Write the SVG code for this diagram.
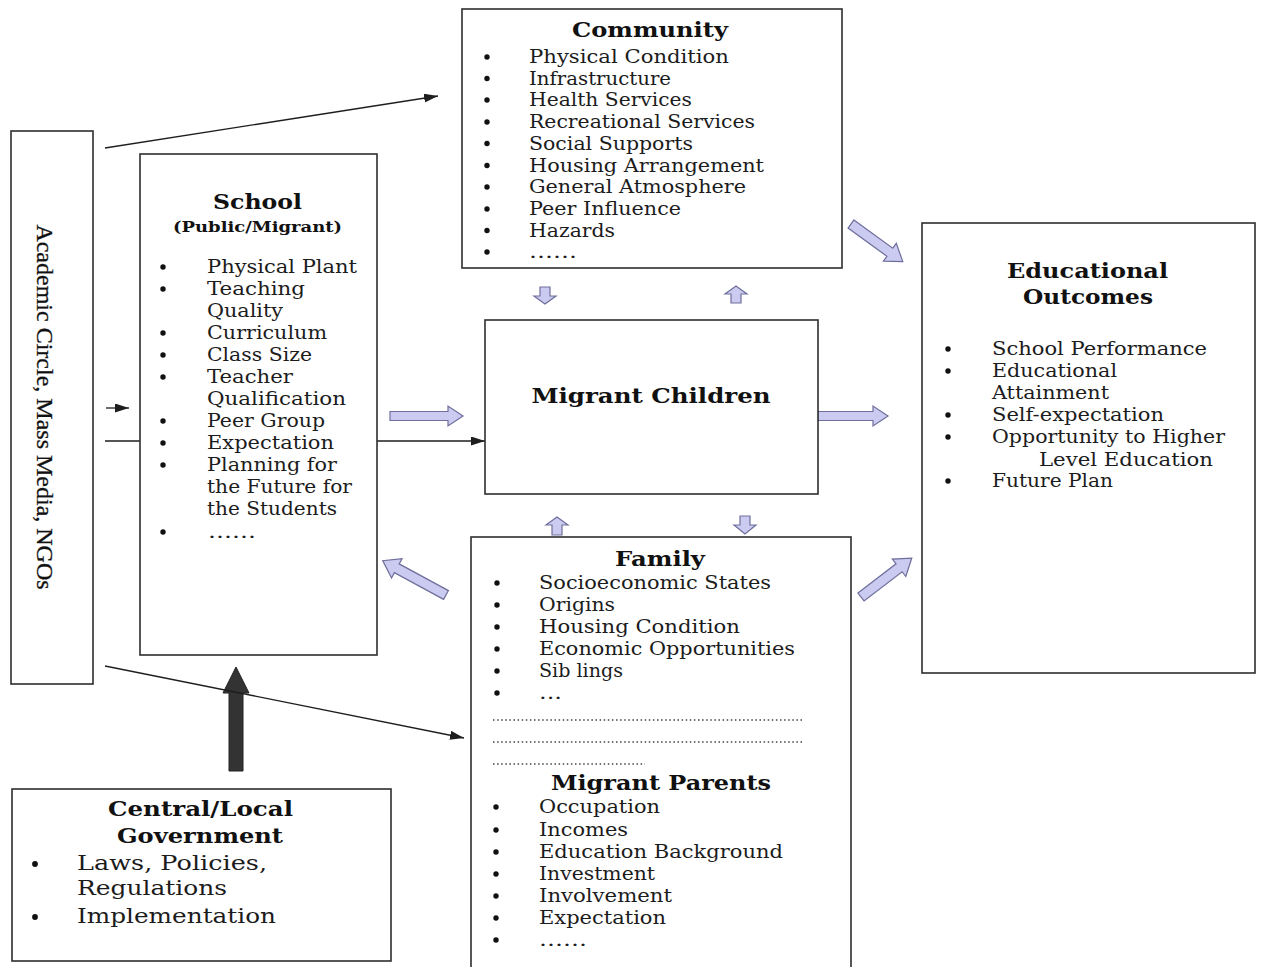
<svg xmlns="http://www.w3.org/2000/svg" width="1261" height="967" viewBox="0 0 1261 967">
<style>
.box{fill:#fff;stroke:#2e2e2e;stroke-width:1.6}
.it{font-family:"DejaVu Serif","Liberation Serif",serif;font-size:19px;fill:#1c1c1c}
.gv{font-family:"DejaVu Serif","Liberation Serif",serif;font-size:21px;fill:#1c1c1c}
.hd{font-family:"DejaVu Serif","Liberation Serif",serif;font-weight:bold;font-size:21px;fill:#111}
.sub{font-family:"DejaVu Serif","Liberation Serif",serif;font-weight:bold;font-size:15px;fill:#111}
.bl{fill:#111}
.mid{text-anchor:middle}
.ln{stroke:#1e1e1e;stroke-width:1.3;fill:none;marker-end:url(#ah)}
.blk{fill:#cbcbf1;stroke:#6e6e9c;stroke-width:1.2}
.dot{stroke:#444;stroke-width:1.4;stroke-dasharray:1.5 2.6}
.vt{font-family:"Liberation Serif","Times New Roman",serif;font-size:24px;fill:#111;stroke:#111;stroke-width:0.3}
</style>
<defs>
<marker id="ah" markerUnits="userSpaceOnUse" markerWidth="15" markerHeight="10" refX="14" refY="4.5" orient="auto">
<path d="M0,0 L14,4.5 L0,9 Z" fill="#1e1e1e"/>
</marker>
<polygon id="d64" points="0,-5 48,-5 48,-11 64,0 48,11 48,5 0,5"/>
<polygon id="d72" points="0,-5 56,-5 56,-11 72,0 56,11 56,5 0,5"/>
</defs>
<rect width="1261" height="967" fill="#fff"/>

<g id="connectors">
<line class="ln" x1="105" y1="148" x2="438" y2="96"/>
<line class="ln" x1="106" y1="408" x2="129" y2="408"/>
<line class="ln" x1="105" y1="441" x2="485" y2="441"/>
<polygon points="229,771 243,771 243,693 249,693 236,667 223,693 229,693" fill="#333" stroke="#222" stroke-width="1"/>
<line class="ln" x1="105" y1="666" x2="464" y2="738"/>
<polygon class="blk" points="390,411.5 448,411.5 448,406 463,416 448,426 448,420.5 390,420.5"/>
<polygon class="blk" points="818,411.5 873,411.5 873,406 888,416 873,426 873,420.5 818,420.5"/>
<polygon class="blk" points="540,287 550,287 550,296 556,296 545,304 534,296 540,296"/>
<polygon class="blk" points="736,286 747,294 741,294 741,303 731,303 731,294 725,294"/>
<polygon class="blk" points="557,517 568,525 562,525 562,535 552,535 552,525 546,525"/>
<polygon class="blk" points="740,516 750,516 750,525 756,525 745,534 734,525 740,525"/>
<use href="#d64" class="blk" transform="translate(851,224) rotate(36)"/>
<use href="#d64" class="blk" transform="translate(861,597) rotate(-37.5)"/>
<use href="#d72" class="blk" transform="translate(446,595) rotate(208.5)"/>
</g>

<g id="academic">
<rect class="box" x="11" y="131" width="82" height="553"/>
<text class="vt mid" transform="translate(37,407) rotate(90)">Academic Circle, Mass Media, NGOs</text>
</g>

<g id="school">
<rect class="box" x="140" y="154" width="237" height="501"/>
<text class="hd mid" x="257.5" y="209" textLength="89" lengthAdjust="spacingAndGlyphs">School</text>
<text class="sub mid" x="257.5" y="232" textLength="169" lengthAdjust="spacingAndGlyphs">(Public/Migrant)</text>
<circle class="bl" cx="163" cy="267" r="2.7"/><text class="it" x="207" y="273" textLength="150" lengthAdjust="spacingAndGlyphs">Physical Plant</text>
<circle class="bl" cx="163" cy="289" r="2.7"/><text class="it" x="207" y="295" textLength="98" lengthAdjust="spacingAndGlyphs">Teaching</text>
<text class="it" x="207" y="317" textLength="76" lengthAdjust="spacingAndGlyphs">Quality</text>
<circle class="bl" cx="163" cy="333" r="2.7"/><text class="it" x="207" y="339" textLength="120" lengthAdjust="spacingAndGlyphs">Curriculum</text>
<circle class="bl" cx="163" cy="355" r="2.7"/><text class="it" x="207" y="361" textLength="105" lengthAdjust="spacingAndGlyphs">Class Size</text>
<circle class="bl" cx="163" cy="377" r="2.7"/><text class="it" x="207" y="383" textLength="86" lengthAdjust="spacingAndGlyphs">Teacher</text>
<text class="it" x="207" y="405" textLength="139" lengthAdjust="spacingAndGlyphs">Qualification</text>
<circle class="bl" cx="163" cy="421" r="2.7"/><text class="it" x="207" y="427" textLength="118" lengthAdjust="spacingAndGlyphs">Peer Group</text>
<circle class="bl" cx="163" cy="443" r="2.7"/><text class="it" x="207" y="449" textLength="127" lengthAdjust="spacingAndGlyphs">Expectation</text>
<circle class="bl" cx="163" cy="465" r="2.7"/><text class="it" x="207" y="471" textLength="130" lengthAdjust="spacingAndGlyphs">Planning for</text>
<text class="it" x="207" y="493" textLength="145" lengthAdjust="spacingAndGlyphs">the Future for</text>
<text class="it" x="207" y="515" textLength="130" lengthAdjust="spacingAndGlyphs">the Students</text>
<circle class="bl" cx="163" cy="532" r="2.7"/><text class="it" x="208" y="538" textLength="48" lengthAdjust="spacingAndGlyphs">......</text>
</g>

<g id="community">
<rect class="box" x="462" y="9" width="380" height="259"/>
<text class="hd mid" x="650" y="37" textLength="156" lengthAdjust="spacingAndGlyphs">Community</text>
<circle class="bl" cx="487" cy="57" r="2.7"/><text class="it" x="529" y="63" textLength="200" lengthAdjust="spacingAndGlyphs">Physical Condition</text>
<circle class="bl" cx="487" cy="78.5" r="2.7"/><text class="it" x="529" y="84.5" textLength="142" lengthAdjust="spacingAndGlyphs">Infrastructure</text>
<circle class="bl" cx="487" cy="100" r="2.7"/><text class="it" x="529" y="106" textLength="163" lengthAdjust="spacingAndGlyphs">Health Services</text>
<circle class="bl" cx="487" cy="122" r="2.7"/><text class="it" x="529" y="128" textLength="226" lengthAdjust="spacingAndGlyphs">Recreational Services</text>
<circle class="bl" cx="487" cy="143.5" r="2.7"/><text class="it" x="529" y="149.5" textLength="164" lengthAdjust="spacingAndGlyphs">Social Supports</text>
<circle class="bl" cx="487" cy="165.5" r="2.7"/><text class="it" x="529" y="171.5" textLength="235" lengthAdjust="spacingAndGlyphs">Housing Arrangement</text>
<circle class="bl" cx="487" cy="187" r="2.7"/><text class="it" x="529" y="193" textLength="217" lengthAdjust="spacingAndGlyphs">General Atmosphere</text>
<circle class="bl" cx="487" cy="209" r="2.7"/><text class="it" x="529" y="215" textLength="152" lengthAdjust="spacingAndGlyphs">Peer Influence</text>
<circle class="bl" cx="487" cy="230.5" r="2.7"/><text class="it" x="529" y="236.5" textLength="86" lengthAdjust="spacingAndGlyphs">Hazards</text>
<circle class="bl" cx="487" cy="252" r="2.7"/><text class="it" x="529" y="258" textLength="48" lengthAdjust="spacingAndGlyphs">......</text>
</g>

<g id="migrant-children">
<rect class="box" x="485" y="320" width="333" height="174"/>
<text class="hd mid" x="651" y="403" font-size="22" textLength="239" lengthAdjust="spacingAndGlyphs">Migrant Children</text>
</g>

<g id="family">
<rect class="box" x="471" y="537" width="380" height="440"/>
<text class="hd mid" x="660" y="566" textLength="90" lengthAdjust="spacingAndGlyphs">Family</text>
<circle class="bl" cx="497" cy="583" r="2.7"/><text class="it" x="539" y="589" textLength="232" lengthAdjust="spacingAndGlyphs">Socioeconomic States</text>
<circle class="bl" cx="497" cy="605" r="2.7"/><text class="it" x="539" y="611" textLength="76" lengthAdjust="spacingAndGlyphs">Origins</text>
<circle class="bl" cx="497" cy="627" r="2.7"/><text class="it" x="539" y="633" textLength="201" lengthAdjust="spacingAndGlyphs">Housing Condition</text>
<circle class="bl" cx="497" cy="649" r="2.7"/><text class="it" x="539" y="655" textLength="256" lengthAdjust="spacingAndGlyphs">Economic Opportunities</text>
<circle class="bl" cx="497" cy="671" r="2.7"/><text class="it" x="539" y="677" textLength="84" lengthAdjust="spacingAndGlyphs">Sib lings</text>
<circle class="bl" cx="497" cy="693" r="2.7"/><text class="it" x="539" y="699" textLength="23" lengthAdjust="spacingAndGlyphs">...</text>
<line class="dot" x1="493" y1="720" x2="804" y2="720"/>
<line class="dot" x1="493" y1="742" x2="804" y2="742"/>
<line class="dot" x1="493" y1="764" x2="645" y2="764"/>
<text class="hd mid" x="661" y="790" textLength="220" lengthAdjust="spacingAndGlyphs">Migrant Parents</text>
<circle class="bl" cx="496" cy="807" r="2.7"/><text class="it" x="539" y="813" textLength="121" lengthAdjust="spacingAndGlyphs">Occupation</text>
<circle class="bl" cx="496" cy="830" r="2.7"/><text class="it" x="539" y="836" textLength="89" lengthAdjust="spacingAndGlyphs">Incomes</text>
<circle class="bl" cx="496" cy="852" r="2.7"/><text class="it" x="539" y="858" textLength="244" lengthAdjust="spacingAndGlyphs">Education Background</text>
<circle class="bl" cx="496" cy="874" r="2.7"/><text class="it" x="539" y="880" textLength="116" lengthAdjust="spacingAndGlyphs">Investment</text>
<circle class="bl" cx="496" cy="896" r="2.7"/><text class="it" x="539" y="902" textLength="133" lengthAdjust="spacingAndGlyphs">Involvement</text>
<circle class="bl" cx="496" cy="918" r="2.7"/><text class="it" x="539" y="924" textLength="127" lengthAdjust="spacingAndGlyphs">Expectation</text>
<circle class="bl" cx="496" cy="940" r="2.7"/><text class="it" x="539" y="946" textLength="48" lengthAdjust="spacingAndGlyphs">......</text>
</g>

<g id="outcomes">
<rect class="box" x="922" y="223" width="333" height="450"/>
<text class="hd mid" x="1087.5" y="278" font-size="22" textLength="161" lengthAdjust="spacingAndGlyphs">Educational</text>
<text class="hd mid" x="1088" y="304" font-size="22" textLength="130" lengthAdjust="spacingAndGlyphs">Outcomes</text>
<circle class="bl" cx="948" cy="349" r="2.7"/><text class="it" x="992" y="355" textLength="215" lengthAdjust="spacingAndGlyphs">School Performance</text>
<circle class="bl" cx="948" cy="371" r="2.7"/><text class="it" x="992" y="377" textLength="125" lengthAdjust="spacingAndGlyphs">Educational</text>
<text class="it" x="992" y="399" textLength="117" lengthAdjust="spacingAndGlyphs">Attainment</text>
<circle class="bl" cx="948" cy="415" r="2.7"/><text class="it" x="992" y="421" textLength="172" lengthAdjust="spacingAndGlyphs">Self-expectation</text>
<circle class="bl" cx="948" cy="437" r="2.7"/><text class="it" x="992" y="443" textLength="233" lengthAdjust="spacingAndGlyphs">Opportunity to Higher</text>
<text class="it" x="1039" y="466" textLength="174" lengthAdjust="spacingAndGlyphs">Level Education</text>
<circle class="bl" cx="948" cy="481" r="2.7"/><text class="it" x="992" y="487" textLength="121" lengthAdjust="spacingAndGlyphs">Future Plan</text>
</g>

<g id="government">
<rect class="box" x="12" y="789" width="379" height="172"/>
<text class="hd mid" x="200.5" y="816" textLength="185" lengthAdjust="spacingAndGlyphs">Central/Local</text>
<text class="hd mid" x="200" y="843" textLength="166" lengthAdjust="spacingAndGlyphs">Government</text>
<circle class="bl" cx="35" cy="864" r="2.9"/><text class="gv" x="77" y="870" textLength="190" lengthAdjust="spacingAndGlyphs">Laws, Policies,</text>
<text class="gv" x="77" y="895" textLength="150" lengthAdjust="spacingAndGlyphs">Regulations</text>
<circle class="bl" cx="35" cy="917" r="2.9"/><text class="gv" x="77" y="923" textLength="199" lengthAdjust="spacingAndGlyphs">Implementation</text>
</g>
</svg>
